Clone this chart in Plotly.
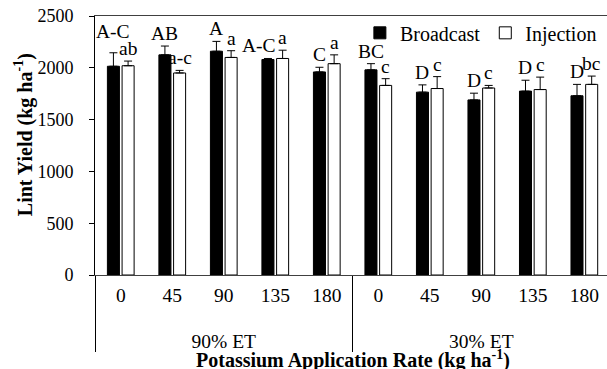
import plotly.graph_objects as go

groups = ["90% ET"] * 5 + ["30% ET"] * 5
rates = ["0", "45", "90", "135", "180"] * 2

broadcast = [2015, 2125, 2160, 2080, 1960, 1980, 1765, 1690, 1775, 1730]
broadcast_err = [130, 85, 95, 10, 45, 60, 70, 65, 105, 110]
injection = [2020, 1950, 2100, 2090, 2040, 1830, 1800, 1805, 1790, 1840]
injection_err = [45, 25, 65, 80, 85, 65, 115, 25, 120, 80]

broadcast_letters = ["A-C", "AB", "A", "A-C", "C", "BC", "D", "D", "D", "D"]
injection_letters = ["ab", "a-c", "a", "a", "a", "c", "c", "c", "c", "bc"]

y_ticks = [0, 500, 1000, 1500, 2000, 2500]

FONT = "Liberation Serif, Times New Roman, serif"
BARGAP = 0.43
# leading line break pushes the group-level labels down, as in the reference
x = [["<br>" + g for g in groups], rates]

fig = go.Figure()
fig.add_trace(go.Bar(
    x=x, y=broadcast, name="Broadcast", offsetgroup="b",
    marker=dict(color="black", line=dict(color="black", width=1)),
    error_y=dict(type="data", array=broadcast_err, arrayminus=[0] * len(broadcast),
                 symmetric=False, color="black", thickness=1, width=4),
))
fig.add_trace(go.Bar(
    x=x, y=injection, name="Injection", offsetgroup="i",
    marker=dict(color="white", line=dict(color="black", width=1)),
    error_y=dict(type="data", array=injection_err, arrayminus=[0] * len(injection),
                 symmetric=False, color="black", thickness=1, width=4),
))

# significance letters above the error bars (label nudges copy the reference placement)
slot = (1 - BARGAP) / 2
nudge = {("b", 0): (0, 9), ("b", 3): (-9, 0)}
annotations = []
for key, vals, errs, letters, side in (("b", broadcast, broadcast_err, broadcast_letters, -1),
                                       ("i", injection, injection_err, injection_letters, 1)):
    for i, (v, e, t) in enumerate(zip(vals, errs, letters)):
        dx, dy = nudge.get((key, i), (0, 0))
        annotations.append(dict(
            text=t, xref="x", yref="y", x=i + side * slot / 2, y=v + e,
            xanchor="center", yanchor="bottom", showarrow=False,
            xshift=dx, yshift=dy, font=dict(family=FONT, size=19.5, color="black")))

annotations += [
    dict(text="<b>Potassium Application Rate (kg ha<sup>-1</sup>)</b>",
         xref="paper", yref="paper", x=0.504, y=-0.325, xanchor="center", yanchor="middle",
         showarrow=False, font=dict(family=FONT, size=20, color="black")),
    dict(text="<b>Lint Yield (kg ha<sup>-1</sup>)</b>", textangle=-90,
         xref="paper", yref="paper", x=-0.139, y=0.543, xanchor="center", yanchor="middle",
         showarrow=False, font=dict(family=FONT, size=20, color="black")),
]

fig.update_layout(
    width=607, height=369,
    margin=dict(l=95, r=0, t=16, b=94),
    paper_bgcolor="white", plot_bgcolor="white",
    barmode="group", bargap=BARGAP, bargroupgap=0.18,
    font=dict(family=FONT, size=19, color="black"),
    showlegend=True,
    legend=dict(orientation="h", x=0.99, xanchor="right", y=0.935, yanchor="middle",
                font=dict(family=FONT, size=20), bgcolor="rgba(0,0,0,0)",
                itemwidth=30, traceorder="normal"),
    xaxis=dict(type="multicategory", range=[-0.5, 9.44], showline=True, linecolor="#404040",
               linewidth=1, mirror=True, ticks="", showgrid=False, showdividers=True,
               dividercolor="black", dividerwidth=1, ticklabelstandoff=3,
               tickfont=dict(family=FONT, size=19.5, color="black")),
    yaxis=dict(range=[0, 2500], tickvals=y_ticks, showline=True, linecolor="black", linewidth=1,
               ticks="outside", ticklen=5, tickcolor="black", showgrid=False, zeroline=False,
               ticklabelstandoff=12,
               tickfont=dict(family=FONT, size=18, color="black")),
    annotations=annotations,
)

fig.write_html("out.html")
